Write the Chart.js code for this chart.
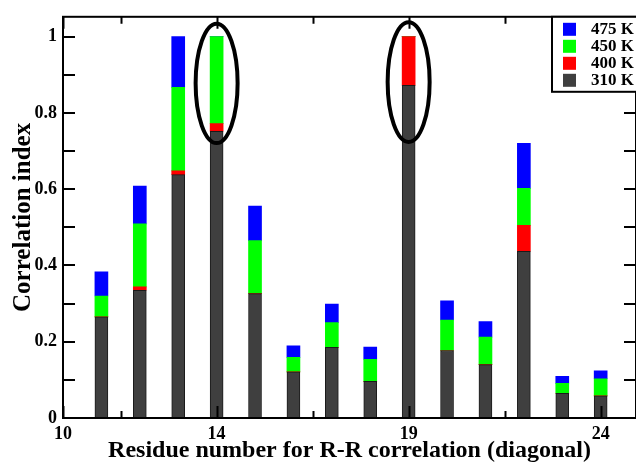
<!DOCTYPE html>
<html>
<head>
<meta charset="utf-8">
<script src="https://cdn.jsdelivr.net/npm/chart.js@4.4.1/dist/chart.umd.min.js"></script>
<style>
  body { margin: 0; background: #fff; }
  #wrap { width: 636px; height: 465px; }
</style>
</head>
<body>
<div id="wrap"><canvas id="corr"></canvas></div>
<script>
// residue numbers and correlation index per temperature (cumulative, as plotted)
var residues = [11, 12, 13, 14, 15, 16, 17, 18, 19, 20, 21, 22, 23, 24];
var t310 = [0.265, 0.335, 0.638, 0.752, 0.326, 0.121, 0.185, 0.096, 0.872, 0.177, 0.140, 0.437, 0.065, 0.058];
var t400 = [0.265, 0.344, 0.648, 0.772, 0.326, 0.121, 0.185, 0.096, 1.000, 0.177, 0.140, 0.505, 0.065, 0.058];
var t450 = [0.320, 0.509, 0.867, 1.000, 0.465, 0.159, 0.250, 0.154, 1.000, 0.257, 0.212, 0.602, 0.091, 0.103];
var t475 = [0.383, 0.608, 1.000, 1.000, 0.556, 0.189, 0.299, 0.186, 1.000, 0.307, 0.253, 0.720, 0.109, 0.124];

var xLabelTicks = [10, 14, 19, 24];
var xTickMarks = [10, 11.5, 14, 16.5, 19, 21.5, 24];
var yLabelTicks = [0, 0.2, 0.4, 0.6, 0.8, 1];
var yTickMarks = [0, 0.1, 0.2, 0.3, 0.4, 0.5, 0.6, 0.7, 0.8, 0.9, 1];

// circled residues
var ringX = [14, 19];
var ringLow = [0.721, 0.724];
var ringHigh = [1.034, 1.038];

var serif = "'Liberation Serif', 'Times New Roman', serif";

// stacked segment = this level minus the one below
function seg(vals, below) {
  return residues.map(function (r, i) {
    return { x: r, y: +(vals[i] - (below ? below[i] : 0)).toFixed(3) };
  });
}

var frameTicks = {
  id: 'frameTicks',
  afterDatasetsDraw: function (chart) {
    var c = chart.ctx, a = chart.chartArea;
    var xs = chart.scales.x, ys = chart.scales.y;
    c.save();
    // ellipses
    c.strokeStyle = '#000';
    c.lineWidth = 4;
    for (var i = 0; i < ringX.length; i++) {
      var cx = xs.getPixelForValue(ringX[i]);
      var top = ys.getPixelForValue(ringHigh[i]);
      var bot = ys.getPixelForValue(ringLow[i]);
      c.beginPath();
      c.ellipse(cx, (top + bot) / 2, 21, (bot - top) / 2, 0, 0, Math.PI * 2);
      c.stroke();
    }
    // frame + inward ticks
    c.lineWidth = 2;
    c.strokeRect(a.left, a.top, a.right - a.left, a.bottom - a.top);
    c.beginPath();
    xTickMarks.forEach(function (v) {
      var px = Math.round(xs.getPixelForValue(v)) + 0.5;
      var len = xLabelTicks.indexOf(v) >= 0 ? 12 : 7;
      c.moveTo(px, a.bottom); c.lineTo(px, a.bottom - len);
      c.moveTo(px, a.top); c.lineTo(px, a.top + len);
    });
    yTickMarks.forEach(function (v) {
      var py = Math.round(ys.getPixelForValue(v));
      c.moveTo(a.left, py); c.lineTo(a.left + 12, py);
      c.moveTo(a.right, py); c.lineTo(a.right - 12, py);
    });
    c.stroke();

    // legend box, top right inside plot
    var items = [
      { label: '475 K', color: '#0000ff' },
      { label: '450 K', color: '#00ff00' },
      { label: '400 K', color: '#ff0000' },
      { label: '310 K', color: '#3f3f3f' }
    ];
    c.fillStyle = '#fff';
    c.fillRect(552, a.top, 100, 75);
    c.lineWidth = 2;
    c.strokeRect(552, a.top, 100, 75);
    c.font = 'bold 17px ' + serif;
    c.textBaseline = 'middle';
    items.forEach(function (it, k) {
      var y = a.top + 12 + k * 17;
      c.fillStyle = it.color;
      c.fillRect(563, y - 6, 13, 13);
      c.fillStyle = '#000';
      c.fillText(it.label, 591, y + 1);
    });
    c.restore();
  }
};

new Chart(document.getElementById('corr'), {
  type: 'bar',
  data: {
    datasets: [
      { label: '310 K', data: seg(t310), backgroundColor: '#3f3f3f', borderColor: '#1a1a1a', borderWidth: 1 },
      { label: '400 K', data: seg(t400, t310), backgroundColor: '#ff0000', borderWidth: 0 },
      { label: '450 K', data: seg(t450, t400), backgroundColor: '#00ff00', borderWidth: 0 },
      { label: '475 K', data: seg(t475, t450), backgroundColor: '#0000ff', borderWidth: 0 }
    ]
  },
  options: {
    responsive: true,
    maintainAspectRatio: false,
    animation: false,
    events: [],
    barThickness: 13,
    layout: { padding: { top: 12, right: 0, left: 0, bottom: 0 } },
    plugins: {
      legend: { display: false },
      tooltip: { enabled: false }
    },
    scales: {
      x: {
        type: 'linear',
        stacked: true,
        offset: false,
        min: 10,
        max: 24.92,
        afterBuildTicks: function (s) { s.ticks = xLabelTicks.map(function (v) { return { value: v }; }); },
        afterFit: function (s) { s.height = 47; },
        grid: { display: false, drawTicks: false },
        border: { display: false },
        ticks: {
          padding: 6,
          maxRotation: 0,
          color: '#000',
          font: { family: serif, size: 18, weight: 'bold' },
          callback: function (v) { return String(v); }
        },
        title: {
          display: true,
          text: 'Residue number for R-R correlation (diagonal)',
          color: '#000',
          padding: { top: 0, bottom: 0 },
          font: { family: serif, size: 24, weight: 'bold' }
        }
      },
      y: {
        stacked: true,
        min: 0,
        max: 1.052,
        afterBuildTicks: function (s) { s.ticks = yLabelTicks.map(function (v) { return { value: v }; }); },
        afterFit: function (s) { s.width = 63; },
        grid: { display: false, drawTicks: false },
        border: { display: false },
        ticks: {
          padding: 6,
          color: '#000',
          font: { family: serif, size: 18, weight: 'bold' },
          callback: function (v) { return String(+v.toFixed(1)); }
        },
        title: {
          display: true,
          text: 'Correlation index',
          color: '#000',
          padding: { top: 9, bottom: 0 },
          font: { family: serif, size: 25, weight: 'bold' }
        }
      }
    }
  },
  plugins: [frameTicks]
});
</script>
</body>
</html>
